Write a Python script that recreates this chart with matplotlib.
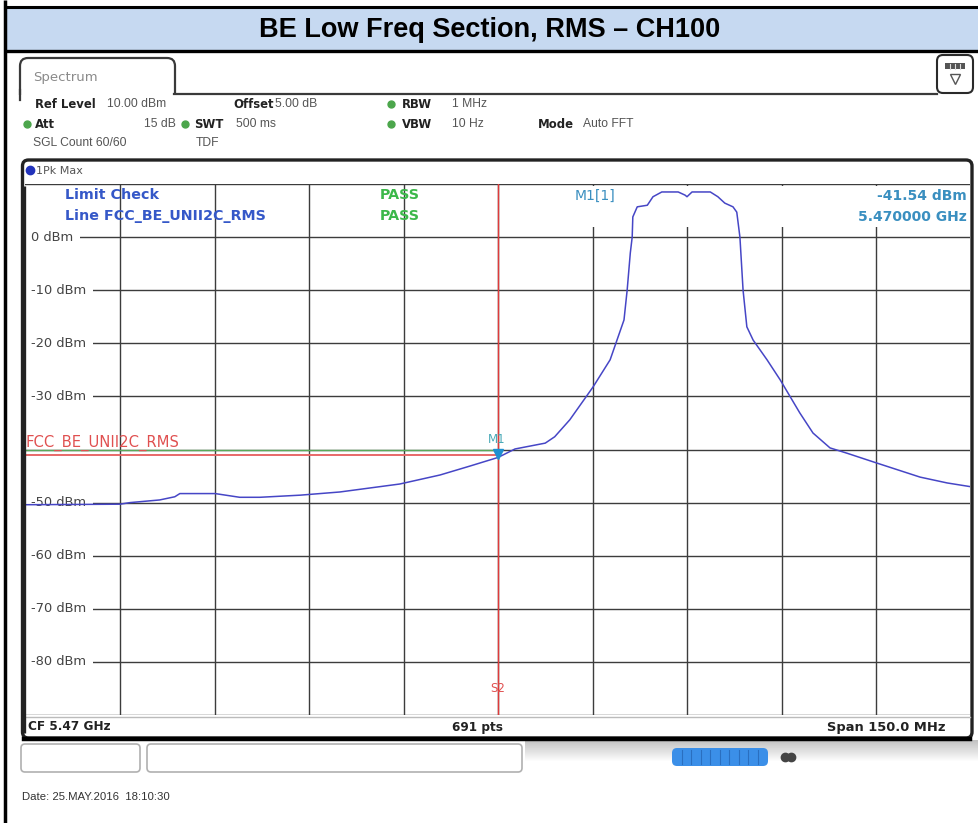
import matplotlib
matplotlib.use("Agg")
import matplotlib.pyplot as plt
import matplotlib.transforms as mtransforms
from matplotlib.patches import Rectangle, FancyBboxPatch
import numpy as np

# ---------------- data ----------------
title = "BE Low Freq Section, RMS \u2013 CH100"
center_mhz = 5470.0
span_mhz = 150.0
ref_level_dbm = 10.0
bottom_dbm = -90.0
y_label_values = [0, -10, -20, -30, -50, -60, -70, -80]

trace_freq_mhz = [5395.0, 5410.0, 5411.6, 5416.3, 5418.7, 5419.5, 5425.1, 5429.0,
                  5432.2, 5438.6, 5444.9, 5454.4, 5460.8, 5465.6, 5470.0, 5472.7,
                  5477.5, 5479.0, 5481.4, 5485.1, 5487.8, 5490.0, 5490.5, 5491.0,
                  5491.3, 5491.4, 5492.1, 5493.7, 5494.6, 5496.0, 5498.6, 5499.7,
                  5500.0, 5500.8, 5503.7, 5504.9, 5506.0, 5507.3, 5507.9, 5508.4,
                  5508.9, 5509.5, 5510.5, 5512.7, 5514.8, 5517.9, 5520.0, 5522.7,
                  5525.4, 5530.0, 5537.0, 5541.3, 5545.0]
trace_dbm = [-50.4, -50.3, -50.0, -49.5, -48.9, -48.3, -48.3, -49.0,
             -49.0, -48.6, -48.0, -46.5, -44.8, -43.1, -41.5, -39.9,
             -38.8, -37.6, -34.4, -28.2, -23.1, -15.6, -10.0, -3.0,
             0.0, 3.8, 5.7, 6.0, 7.6, 8.5, 8.5, 7.9,
             7.6, 8.5, 8.5, 7.6, 6.4, 5.7, 4.7, 0.0,
             -10.0, -16.9, -19.4, -23.1, -26.9, -33.1, -36.9, -39.7,
             -40.7, -42.5, -45.2, -46.3, -47.0]

limit_line_dbm = -41.0
display_line_dbm = -40.0
marker_freq_mhz = 5470.0
marker_dbm = -41.54

# ---------------- figure ----------------
W, H = 979, 823
fig = plt.figure(figsize=(W / 100, H / 100), dpi=100)
fig.patch.set_facecolor("white")

ov = fig.add_axes([0, 0, 1, 1], zorder=0)
ov.set_xlim(0, W)
ov.set_ylim(H, 0)
ov.axis("off")
PX = ov.transData

GL, GR, GT, GB = 25.5, 970.5, 184.0, 715.0
ax = fig.add_axes([GL / W, 1 - GB / H, (GR - GL) / W, (GB - GT) / H], zorder=2)
ax.patch.set_alpha(0)
f0 = center_mhz - span_mhz / 2
f1 = center_mhz + span_mhz / 2
ax.set_xlim(f0, f1)
ax.set_ylim(bottom_dbm, ref_level_dbm)
ax.set_xticks(np.linspace(f0, f1, 11)[1:-1])
ax.set_yticks(np.arange(bottom_dbm, ref_level_dbm + 1, 10))
ax.set_axisbelow(True)
ax.grid(True, color="#3c3c3c", lw=1.0)
ax.tick_params(length=0, labelbottom=False, labelleft=False)
for s in ax.spines.values():
    s.set_visible(False)

# ---------- outer page decorations ----------
ov.plot([5, 5], [0, H], color="black", lw=2.5, solid_capstyle="butt")
ov.add_patch(Rectangle((6, 8), W - 6, 42, fc="#C6D9F1", ec="none", zorder=1))
ov.plot([5, W], [6.8, 6.8], color="black", lw=2.2, solid_capstyle="butt", zorder=2)
ov.plot([5, W], [51, 51], color="black", lw=2.4, solid_capstyle="butt", zorder=2)
ov.text(490, 30, title, ha="center", va="center", fontsize=19.5, fontweight="bold",
        family="Liberation Sans", color="black", zorder=3)

# Spectrum tab
ov.add_patch(FancyBboxPatch((20, 58), 155, 60, boxstyle="round,pad=0,rounding_size=8",
                            fc="white", ec="#3a3a3a", lw=1.6, zorder=1))
ov.add_patch(Rectangle((18, 94.5), 162, 40, fc="white", ec="none", zorder=1.5))
ov.plot([20, 20], [90, 100], color="#3a3a3a", lw=1.6, zorder=1.6)
ov.plot([174.2, 937], [93.5, 93.5], color="#3a3a3a", lw=1.6, zorder=1.6)
ov.text(33, 77, "Spectrum", fontsize=9.5, color="#8a8a8a", va="center", family="DejaVu Sans", zorder=3)

# icon box
ov.add_patch(FancyBboxPatch((937, 55), 36, 38, boxstyle="round,pad=0,rounding_size=6",
                            fc="white", ec="#2a2a2a", lw=1.5, zorder=2))
ov.add_patch(Rectangle((945, 63), 20, 6, fc="#555555", ec="none", zorder=3))
for xx in (950, 955, 960):
    ov.plot([xx, xx], [63.5, 68.5], color="#dddddd", lw=0.8, zorder=3.5)
ov.plot([955], [79], marker="v", ms=7, mfc="white", mec="#555555", mew=1.0, zorder=3)

# header rows
hc = "#555555"
def hdr(x, y, s, bold=False, ha="left"):
    ov.text(x, y, s, fontsize=8.4 if bold else 8.7, fontweight="bold" if bold else "normal",
            color="#222222" if bold else hc, ha=ha, va="center",
            family="DejaVu Sans" if bold else "Liberation Sans", zorder=3)
def dot(x, y):
    ov.plot([x], [y], marker="o", ms=5, color="#4CA64C", zorder=3)

hdr(35, 104, "Ref Level", True)
hdr(107, 104, "10.00 dBm")
hdr(233, 104, "Offset", True)
hdr(275, 104, "5.00 dB")
dot(391, 104)
hdr(402, 104, "RBW", True)
hdr(452, 104, "1 MHz")
dot(27, 124)
hdr(35, 124, "Att", True)
hdr(176, 124, "15 dB", ha="right")
dot(185, 124)
hdr(194, 124, "SWT", True)
hdr(236, 124, "500 ms")
dot(391, 124)
hdr(402, 124, "VBW", True)
hdr(452, 124, "10 Hz")
hdr(538, 124, "Mode", True)
hdr(583, 124, "Auto FFT")
hdr(33, 143, "SGL Count 60/60")
hdr(196, 143, "TDF")

# trace frame
ov.add_patch(FancyBboxPatch((22.5, 160), 949.5, 578, boxstyle="round,pad=0,rounding_size=6",
                            fc="white", ec="#222222", lw=2.4, zorder=1))
ov.plot([24, 970], [738.5, 738.5], color="black", lw=3.2, zorder=2)
ov.plot([30], [170], marker="o", ms=6, color="#2233BB", zorder=3)
ov.text(36, 171, "1Pk Max", fontsize=8, color="#555555", va="center", family="DejaVu Sans", zorder=3)
ov.plot([24, 970], [717, 717], color="#bbbbbb", lw=1.0, zorder=1.5)

# bottom status bar
ov.text(28, 727, "CF 5.47 GHz", fontsize=8.7, fontweight="bold", color="#222222",
        va="center", family="DejaVu Sans", zorder=3)
ov.text(478, 727, "691 pts", fontsize=8.7, fontweight="bold", color="#222222",
        va="center", ha="center", family="DejaVu Sans", zorder=3)
ov.text(946, 727, "Span 150.0 MHz", fontsize=9.4, fontweight="bold", color="#222222",
        va="center", ha="right", family="DejaVu Sans", zorder=3)

# widgets below frame
for y0, a in zip(range(740, 762), np.linspace(0.45, 0.0, 22)):
    ov.add_patch(Rectangle((525, y0), W - 525, 1, fc="#777777", ec="none", alpha=a, zorder=1))
ov.add_patch(FancyBboxPatch((21, 744), 119, 28, boxstyle="round,pad=0,rounding_size=4",
                            fc="white", ec="#b0b0b0", lw=1.2, zorder=2))
ov.add_patch(FancyBboxPatch((147, 744), 375, 28, boxstyle="round,pad=0,rounding_size=4",
                            fc="white", ec="#b0b0b0", lw=1.2, zorder=2))
ov.add_patch(FancyBboxPatch((672, 748), 96, 18, boxstyle="round,pad=0,rounding_size=5",
                            fc="#3B8FE8", ec="none", zorder=2))
for xs in np.linspace(682, 758, 9):
    ov.plot([xs, xs], [750, 764], color="#2a6fc0", lw=0.8, zorder=3)
ov.plot([785, 791], [757, 757], marker="o", ms=6, ls="none", color="#444444", zorder=3)

ov.text(22, 797, "Date: 25.MAY.2016  18:10:30", fontsize=8.2, color="#333333",
        va="center", family="Liberation Sans", zorder=3)

# ---------- inside the grid ----------
ax.add_patch(Rectangle((505, 186), 465, 41, transform=PX, fc="white", ec="none", zorder=1))

ylab_tr = mtransforms.blended_transform_factory(PX, ax.transData)
for v in y_label_values:
    ax.text(31, v, f"{v} dBm", transform=ylab_tr, fontsize=9.4, color="#444444",
            ha="left", va="center", family="DejaVu Sans", zorder=3,
            bbox=dict(fc="white", ec="none", boxstyle="square,pad=0.5"))
# restore left frame edge on top of label boxes
ax.plot([23.7, 23.7], [186, 733], transform=PX, color="#222222", lw=2.4,
        solid_capstyle="butt", zorder=6, clip_on=False)

ax.plot([f0, center_mhz], [display_line_dbm, display_line_dbm], color="#5aa85a", lw=1.0, zorder=2.5)
ax.plot([f0, center_mhz], [limit_line_dbm, limit_line_dbm], color="#E86868", lw=1.4, zorder=2.6)
ax.text(26, limit_line_dbm + 0.7, "FCC_BE_UNII2C_RMS", transform=ylab_tr, fontsize=10.6,
        color="#E05050", ha="left", va="bottom", family="DejaVu Sans", zorder=3)
ax.axvline(center_mhz, color="#E03A3A", lw=1.0, zorder=2.7)
xs_tr = mtransforms.blended_transform_factory(ax.transData, PX)
ax.text(center_mhz, 688, "S2", transform=xs_tr, fontsize=8.5, color="#E05050",
        ha="center", va="center", family="DejaVu Sans", zorder=3)

ax.plot(trace_freq_mhz, trace_dbm, color="#4646C6", lw=1.1, zorder=4)
ax.plot([marker_freq_mhz], [marker_dbm + 0.6], marker="v", ms=6.5, color="#1E8FD0", zorder=5)
ax.annotate("M1", (marker_freq_mhz, marker_dbm), xytext=(-1, 13), textcoords="offset points",
            ha="center", va="center", fontsize=8.5, color="#4AAAB8", family="DejaVu Sans", zorder=5)

tfs = 10.3
ax.text(65, 195, "Limit Check", transform=PX, fontsize=tfs, color="#3558C8", fontweight="bold",
        va="center", family="DejaVu Sans", zorder=3)
ax.text(65, 216, "Line FCC_BE_UNII2C_RMS", transform=PX, fontsize=tfs, color="#3558C8",
        fontweight="bold", va="center", family="DejaVu Sans", zorder=3)
ax.text(380, 195, "PASS", transform=PX, fontsize=tfs, color="#3CB84A", fontweight="bold",
        va="center", family="DejaVu Sans", zorder=3)
ax.text(380, 216, "PASS", transform=PX, fontsize=tfs, color="#3CB84A", fontweight="bold",
        va="center", family="DejaVu Sans", zorder=3)
ax.text(575, 196, "M1[1]", transform=PX, fontsize=10, color="#3A8FC0",
        va="center", family="DejaVu Sans", zorder=3)
ax.text(967, 196, f"{marker_dbm:.2f} dBm", transform=PX, fontsize=10, color="#3A8FC0",
        fontweight="bold", ha="right", va="center", family="DejaVu Sans", zorder=3)
ax.text(967, 217, f"{marker_freq_mhz / 1000:.6f} GHz", transform=PX, fontsize=10, color="#3A8FC0",
        fontweight="bold", ha="right", va="center", family="DejaVu Sans", zorder=3)

fig.savefig("out.png", dpi=100, facecolor="white")
